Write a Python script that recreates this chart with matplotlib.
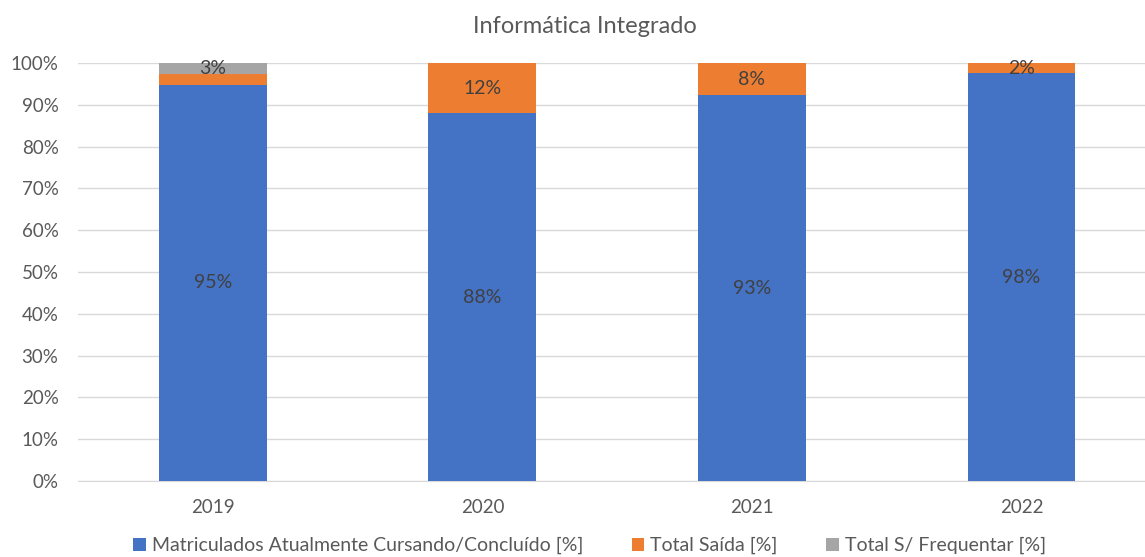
import matplotlib
matplotlib.use('Agg')
import matplotlib.pyplot as plt
from matplotlib.ticker import PercentFormatter

plt.rcParams['font.family'] = ['Lato', 'DejaVu Sans']

# dados (percentual de cada ano)
anos = ['2019', '2020', '2021', '2022']
matriculados = [94.8, 88.0, 92.3, 97.6]
saida = [2.6, 12.0, 7.7, 2.4]
sem_freq = [2.6, 0.0, 0.0, 0.0]

rot_matriculados = ['95%', '88%', '93%', '98%']
rot_saida = ['', '12%', '8%', '2%']
rot_sem_freq = ['3%', '', '', '']

azul = '#4472C4'
laranja = '#ED7D31'
cinza = '#A5A5A5'
texto = '#595959'

fig = plt.figure(figsize=(11.45, 5.57), dpi=100)
ax = fig.add_axes([78 / 1145, 76 / 557, 1067 / 1145, 418 / 557])

x = range(len(anos))
larg = 0.4
b1 = ax.bar(x, matriculados, larg, color=azul, label='Matriculados Atualmente Cursando/Concluído [%]', zorder=3)
base2 = matriculados
b2 = ax.bar(x, saida, larg, bottom=base2, color=laranja, label='Total Saída [%]', zorder=3)
base3 = [m + s for m, s in zip(matriculados, saida)]
b3 = ax.bar(x, sem_freq, larg, bottom=base3, color=cinza, label='Total S/ Frequentar [%]', zorder=3)

ax.bar_label(b1, labels=rot_matriculados, label_type='center', color='#404040', fontsize=14)
ax.bar_label(b2, labels=rot_saida, label_type='center', color='#404040', fontsize=14)
ax.bar_label(b3, labels=rot_sem_freq, label_type='center', color='#404040', fontsize=14)

ax.set_xlim(-0.5, 3.458)
ax.set_ylim(0, 100)
ax.set_yticks(range(0, 101, 10))
ax.yaxis.set_major_formatter(PercentFormatter(decimals=0))
ax.set_xticks(list(x))
ax.set_xticklabels(anos)
ax.grid(axis='y', color='#D9D9D9', linewidth=1, zorder=0)
for s in ['top', 'right', 'left']:
    ax.spines[s].set_visible(False)
ax.spines['bottom'].set_color('#D9D9D9')
ax.tick_params(axis='both', length=0, colors=texto, labelsize=13.5)
ax.tick_params(axis='y', pad=14)
ax.tick_params(axis='x', pad=13)

fig.text(0.511, 0.952, 'Informática Integrado', ha='center', va='center', fontsize=17, color=texto)

ax.legend(loc='center', bbox_to_anchor=(0.5 - 22 / 1067, -0.155), ncol=3, frameon=False,
          fontsize=14, labelcolor=texto, handlelength=0.65, handleheight=0.65,
          handletextpad=0.3, columnspacing=2.5)

fig.savefig('out.png', dpi=100)
